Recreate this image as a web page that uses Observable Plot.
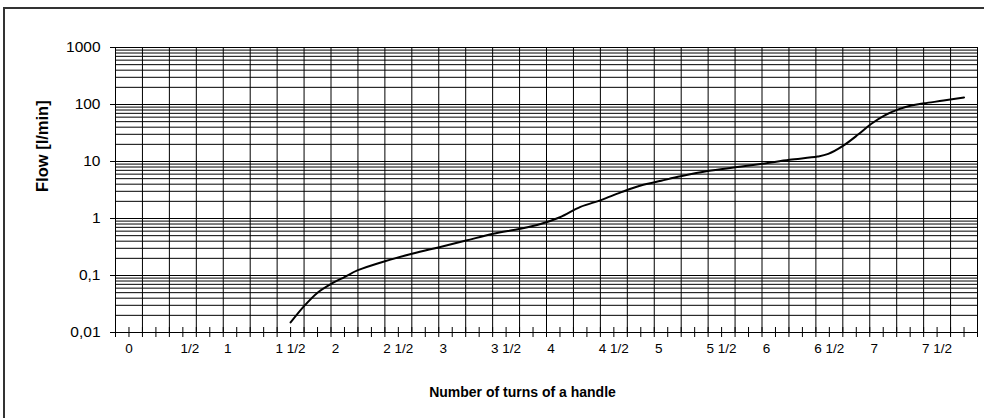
<!DOCTYPE html>
<html><head><meta charset="utf-8">
<script src="https://cdn.jsdelivr.net/npm/d3@7"></script>
<script src="https://cdn.jsdelivr.net/npm/@observablehq/plot@0.6"></script>
<style>
body{margin:0;background:#fff;}
#wrap{position:relative;width:984px;height:418px;overflow:hidden;background:#fff;}
#border{position:absolute;left:3px;top:7px;width:1200px;height:600px;border-left:2px solid #333;border-top:2px solid #333;pointer-events:none;}
</style></head><body><div id="wrap"><div id="border"></div></div>
<script>
// Curve data: number of turns vs flow [l/min]
const turns = [1.5,1.625,1.75,1.88,2.0,2.125,2.375,2.636,2.88,3.128,3.38,3.63,3.82,4.0,4.19,4.38,4.57,4.75,4.94,5.12,5.37,5.63,5.88,6.13,6.39,6.49,6.63,6.77,6.89,7.01,7.14,7.26,7.38,7.56,7.75];
const flow  = [0.015,0.029,0.05,0.072,0.094,0.124,0.178,0.243,0.314,0.41,0.54,0.66,0.80,1.05,1.6,2.1,2.9,3.8,4.6,5.5,6.8,7.9,9.1,10.7,12.2,13.6,19,30,46,64,82,96,105,117,133];

const yTickValues = [0.01,0.1,1,10,100,1000];
const yTickLabels = ["0,01","0,1","1","10","100","1000"];
const xLabelValues = [0,0.5,1,1.5,2,2.5,3,3.5,4,4.5,5,5.5,6,6.5,7,7.5];
const xLabelTexts  = ["0","1/2","1","1 1/2","2","2 1/2","3","3 1/2","4","4 1/2","5","5 1/2","6","6 1/2","7","7 1/2"];
const xTitle = "Number of turns of a handle";
const yTitle = "Flow [l/min]";

const data = turns.map((t, i) => ({turns: t, flow: flow[i]}));
const xDomain = [-0.125, 7.875];
const xTicks = d3.range(0, 65).map(k => -0.125 + k * 0.125);
const xGrid = d3.range(0, 33).map(k => -0.125 + k * 0.25);
const yGrid = [];
for (const d of yTickValues.slice(0, -1)) for (let m = 1; m <= 9; m++) yGrid.push(d * m);
yGrid.push(1000);

const labelText = d => xLabelTexts[xLabelValues.indexOf(d)];
const groupHalf = xLabelValues.filter(v => v === 0 || (v > 1 && v % 1 !== 0));
const groupInt = xLabelValues.filter(v => v >= 1 && v % 1 === 0);
const groupFirstHalf = [0.5];

const font = "'Liberation Sans', Arial, sans-serif";
const chart = Plot.plot({
  width: 984, height: 418,
  marginLeft: 115, marginRight: 7, marginTop: 47, marginBottom: 86,
  style: {fontFamily: font, fontSize: "13.5px", color: "#000", background: "transparent"},
  x: {domain: xDomain},
  y: {type: "log", domain: [0.01, 1000]},
  marks: [
    Plot.ruleY(yGrid, {stroke: "#000", strokeWidth: 1}),
    Plot.ruleX(xGrid, {stroke: "#000", strokeWidth: 1}),
    Plot.ruleX(xTicks, {stroke: "#000", insetTop: 280, insetBottom: -5}),
    Plot.frame({stroke: "#000"}),
    Plot.axisY(yTickValues, {tickSize: 5, tickPadding: 10, fontSize: 15.5, label: null,
      tickFormat: d => yTickLabels[yTickValues.indexOf(d)]}),
    Plot.axisX(groupHalf, {tickSize: 0, tickPadding: 11, label: null, tickFormat: labelText}),
    Plot.axisX(groupInt, {tickSize: 0, tickPadding: 11, label: null, tickFormat: labelText, dx: -9}),
    Plot.axisX(groupFirstHalf, {tickSize: 0, tickPadding: 11, label: null, tickFormat: labelText, dx: 7}),
    Plot.line(data, {x: "turns", y: "flow", curve: "catmull-rom", stroke: "#000", strokeWidth: 2}),
    Plot.text([xTitle], {frameAnchor: "bottom", dy: 64, dx: -24, fontWeight: "bold", fontSize: 14, fill: "#000"}),
    Plot.text([yTitle], {frameAnchor: "left", rotate: -90, dx: -73, dy: 2, fontWeight: "bold", fontSize: 16.5, fill: "#000"})
  ]
});
chart.style.position = "absolute";
chart.style.left = "0";
chart.style.top = "0";
document.getElementById("wrap").appendChild(chart);
</script>
</body></html>
